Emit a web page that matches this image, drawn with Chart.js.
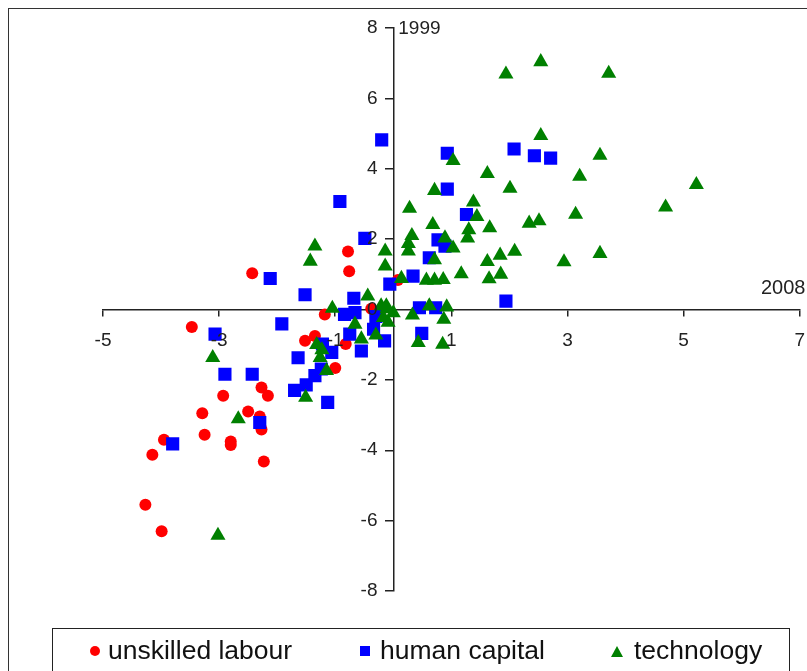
<!DOCTYPE html>
<html>
<head>
<meta charset="utf-8">
<script src="https://cdn.jsdelivr.net/npm/chart.js@4/dist/chart.umd.min.js"></script>
<style>
html,body{margin:0;padding:0;background:#fff;overflow:hidden;}
#wrap{position:relative;width:807px;height:671px;overflow:hidden;background:#fff;}
#frame{position:absolute;left:8px;top:8px;width:900px;height:800px;border:1px solid #333;box-sizing:border-box;}
#c{position:absolute;left:0;top:0;}
#legendBox{position:absolute;left:52px;top:628px;width:738px;height:80px;border:1px solid #222;box-sizing:border-box;}
.lg{position:absolute;font-family:"Liberation Sans",Arial,sans-serif;font-size:26.5px;line-height:30px;color:#111;white-space:nowrap;}
.mk{position:absolute;}
</style>
</head>
<body>
<div id="wrap">
  <div id="frame"></div>
  <canvas id="c" width="819" height="671"></canvas>
  <div id="legendBox"></div>
  <div id="legendItems"></div>
</div>
<script>
// ---- data ----
const seriesNames = ["unskilled labour", "human capital", "technology"];
const xTicks = [-5, -3, -1, 1, 3, 5, 7];
const yTicks = [-8, -6, -4, -2, 0, 2, 4, 6, 8];
const xTitle = "2008";
const yTitle = "1999";

const unskilledLabour = [
  [-2.43,1.03],[-0.78,1.65],[-0.76,1.09],[0.08,0.84],[-0.38,0.02],[-1.18,-0.14],
  [-1.52,-0.89],[-1.35,-0.75],[-0.82,-0.98],[-1.0,-1.66],[-3.47,-0.5],[-2.27,-2.22],
  [-2.16,-2.45],[-2.93,-2.45],[-3.29,-2.95],[-2.5,-2.9],[-2.3,-3.04],[-3.25,-3.56],
  [-2.27,-3.41],[-3.95,-3.7],[-2.8,-3.75],[-2.8,-3.85],[-4.15,-4.13],[-2.23,-4.32],
  [-4.27,-5.55],[-3.99,-6.3]
];
const humanCapital = [
  [-0.2,4.82],[-0.92,3.07],[-0.49,2.02],[-2.12,0.88],[-0.06,0.72],[0.34,0.95],
  [0.93,4.44],[2.08,4.56],[2.43,4.37],[2.71,4.3],[0.93,3.42],[1.26,2.7],
  [0.77,1.98],[0.89,1.8],[0.62,1.47],[1.94,0.24],[0.45,0.05],[0.73,0.05],
  [0.49,-0.68],[-1.52,0.42],[-0.68,0.32],[-1.92,-0.41],[-0.84,-0.14],[-0.66,-0.09],
  [-0.3,-0.2],[-0.34,-0.56],[-0.75,-0.7],[-0.15,-0.89],[-0.55,-1.18],[-1.22,-0.98],
  [-1.06,-1.22],[-1.64,-1.37],[-1.24,-1.69],[-1.35,-1.88],[-1.5,-2.14],[-1.7,-2.3],
  [-1.13,-2.64],[-3.07,-0.7],[-2.9,-1.84],[-2.43,-1.84],[-2.3,-3.21],[-3.8,-3.82]
];
const technology = [
  [3.71,6.71],[2.54,7.04],[1.94,6.69],[2.54,4.94],[3.56,4.38],[3.21,3.78],
  [5.22,3.55],[4.69,2.91],[3.14,2.7],[3.56,1.59],[2.94,1.35],[1.03,4.23],
  [1.62,3.86],[0.71,3.38],[2.01,3.44],[0.28,2.87],[1.38,3.05],[1.44,2.64],
  [1.66,2.32],[0.68,2.41],[1.3,2.26],[1.28,2.03],[2.34,2.45],[2.51,2.52],
  [0.32,2.1],[0.26,1.87],[0.26,1.66],[-0.14,1.66],[-0.14,1.23],[0.89,2.03],
  [1.03,1.74],[0.71,1.41],[2.09,1.65],[1.84,1.54],[1.62,1.36],[1.17,1.01],
  [1.65,0.87],[1.85,1.0],[0.14,0.88],[0.57,0.83],[0.71,0.83],[0.86,0.85],
  [0.62,0.1],[0.92,0.07],[-0.12,0.1],[-1.35,1.8],[-1.43,1.37],[-0.44,0.38],
  [-1.05,0.03],[-0.21,0.1],[-0.11,0.02],[0.0,-0.1],[-0.09,-0.37],[-0.17,-0.23],
  [0.33,-0.16],[0.87,-0.28],[0.43,-0.94],[0.85,-0.99],[-0.66,-0.42],[-0.3,-0.73],
  [-0.55,-0.84],[-1.32,-1.0],[-1.23,-1.15],[-1.26,-1.37],[-1.15,-1.74],[-3.11,-1.37],
  [-1.51,-2.5],[-2.67,-3.11],[-3.02,-6.42]
];

const colors = ["#ff0000", "#0000ff", "#008000"];
const FONT = '"Liberation Sans", Arial, sans-serif';
const toPts = arr => arr.map(([x, y]) => ({x, y}));

const axisTitles = {
  id: 'axisTitles',
  afterDraw(chart) {
    const {ctx, scales: {x, y}} = chart;
    ctx.save();
    ctx.font = '19px ' + FONT;
    ctx.fillStyle = '#222';
    ctx.textBaseline = 'middle';
    ctx.textAlign = 'left';
    ctx.fillText(yTitle, x.getPixelForValue(0) + 5, y.getPixelForValue(yTicks[yTicks.length - 1]) + 1);
    ctx.font = '20px ' + FONT;
    ctx.fillText(xTitle, 761, y.getPixelForValue(0) - 21);
    ctx.restore();
  }
};

new Chart(document.getElementById('c'), {
  type: 'scatter',
  data: {
    datasets: [
      {label: seriesNames[0], data: toPts(unskilledLabour), pointStyle: 'circle', pointRadius: 6,
       backgroundColor: colors[0], borderColor: colors[0], borderWidth: 0, order: 2},
      {label: seriesNames[1], data: toPts(humanCapital), pointStyle: 'rect', pointRadius: 9.3,
       backgroundColor: colors[1], borderColor: colors[1], borderWidth: 0, order: 1},
      {label: seriesNames[2], data: toPts(technology), pointStyle: 'triangle', pointRadius: 8.7,
       backgroundColor: colors[2], borderColor: colors[2], borderWidth: 0, order: 0}
    ]
  },
  options: {
    responsive: false,
    animation: false,
    events: [],
    layout: {padding: {left: 103, right: 7, top: 28, bottom: 80}},
    plugins: {legend: {display: false}, tooltip: {enabled: false}},
    scales: {
      x: {
        type: 'linear', position: {y: 0}, min: xTicks[0], max: xTicks[xTicks.length - 1],
        afterBuildTicks: s => { s.ticks = xTicks.map(v => ({value: v})); },
        grid: {drawOnChartArea: false, drawTicks: true, tickLength: 6, color: '#222', lineWidth: 1.5},
        border: {display: true, color: '#222', width: 1.5},
        ticks: {font: {family: FONT, size: 19}, color: '#222', padding: 14, maxRotation: 0, autoSkip: false, z: 1}
      },
      y: {
        type: 'linear', position: {x: 0}, min: yTicks[0], max: yTicks[yTicks.length - 1],
        afterBuildTicks: s => { s.ticks = yTicks.map(v => ({value: v})); },
        grid: {drawOnChartArea: false, drawTicks: true, tickLength: 8, color: '#222', lineWidth: 1.5},
        border: {display: true, color: '#222', width: 1.5},
        ticks: {font: {family: FONT, size: 19}, color: '#222', padding: 8, autoSkip: false, z: 1,
                callback: v => String(v) + '   '}
      }
    }
  },
  plugins: [axisTitles]
});

// ---- legend (HTML) ----
const legendLayout = [
  {mk: 'circle', mx: 95, tx: 108},
  {mk: 'square', mx: 365, tx: 380},
  {mk: 'triangle', mx: 617, tx: 634}
];
const li = document.getElementById('legendItems');
legendLayout.forEach((l, i) => {
  const m = document.createElement('div');
  m.className = 'mk';
  if (l.mk === 'circle') {
    Object.assign(m.style, {left: (l.mx - 5) + 'px', top: '646px', width: '10px', height: '10px', borderRadius: '50%', background: colors[i]});
  } else if (l.mk === 'square') {
    Object.assign(m.style, {left: (l.mx - 5) + 'px', top: '646px', width: '10px', height: '10px', background: colors[i]});
  } else {
    Object.assign(m.style, {left: (l.mx - 6) + 'px', top: '646px', width: '0', height: '0',
      borderLeft: '6px solid transparent', borderRight: '6px solid transparent', borderBottom: '11px solid ' + colors[i]});
  }
  li.appendChild(m);
  const t = document.createElement('div');
  t.className = 'lg';
  t.style.left = l.tx + 'px';
  t.style.top = '635px';
  t.textContent = seriesNames[i];
  li.appendChild(t);
});
</script>
</body>
</html>
